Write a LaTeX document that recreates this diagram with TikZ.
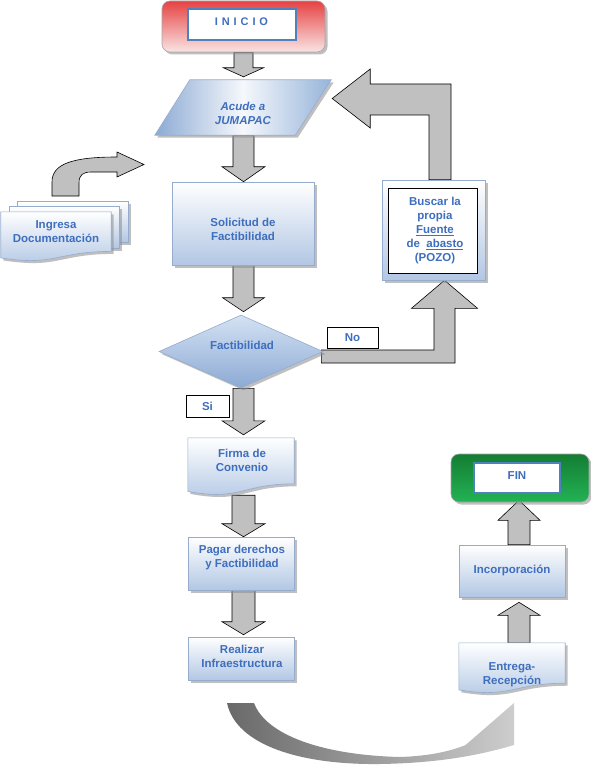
\documentclass[tikz,border=0pt]{standalone}
\usepackage{fontspec}
\setmainfont{Liberation Sans}
\usetikzlibrary{calc,shadows,shapes.geometric,backgrounds}
\definecolor{txt}{RGB}{62,110,190}
\definecolor{bxb}{RGB}{178,199,228}
\definecolor{bxline}{RGB}{150,172,205}
\definecolor{arrowgray}{RGB}{192,192,192}
\definecolor{innerblue}{RGB}{79,129,189}
\definecolor{inired}{RGB}{230,66,66}
\definecolor{inilow}{RGB}{250,228,228}
\definecolor{fintop}{RGB}{20,125,50}
\definecolor{finbot}{RGB}{35,178,85}
\definecolor{parL}{RGB}{140,170,212}
\definecolor{parR}{RGB}{150,180,218}
\definecolor{dtop}{RGB}{212,226,243}
\definecolor{dbot}{RGB}{140,170,212}
\definecolor{crvL}{RGB}{105,105,105}
\definecolor{crvR}{RGB}{205,205,205}

\newcommand\vbar[5]{%
  \path[barrow] let \p1=#1, \p2=#2 in
  ({\x2-#3},\y1) -- ({\x2+#3},\y1) -- ({\x2+#3},{\y2+#5}) -- ({\x2+#4},{\y2+#5})
  -- (\x2,\y2) -- ({\x2-#4},{\y2+#5}) -- ({\x2-#3},{\y2+#5}) -- cycle;}
\newcommand\docshape[2]{%
  \path[#1] let \p1=(#2.north west), \p2=(#2.south east), \n1={\y1-\y2}, \n2={0.5*(\x1+\x2)} in
  (\x1,\y1) -- (\x2,\y1) -- (\x2,{\y1-0.802*\n1}) .. controls ({\n2*1pt},{\y1-0.802*\n1})
  and ({\n2*1pt},{\y1-1.1075*\n1}) .. (\x1,{\y1-0.934*\n1}) -- cycle;}

\begin{document}
\begin{tikzpicture}[x=1pt,y=-1pt,
  lbl/.style={text=txt, font=\fontsize{11.5}{14}\selectfont\bfseries, align=center, inner sep=0pt},
  shad/.style={drop shadow={shadow xshift=2.5pt, shadow yshift=-2.5pt, opacity=0.55, fill=black!45}},
  box/.style={rectangle, draw=bxline, line width=0.6pt, top color=white, bottom color=bxb, shad, inner sep=0pt},
  docst/.style={draw=bxline, line width=0.6pt, top color=white, bottom color=bxb, shad},
  barrow/.style={fill=arrowgray, draw=black, line width=0.6pt, line join=miter},
  innerbox/.style={rectangle, fill=white, draw=innerblue, line width=1.8pt, inner sep=0pt},
  tagbox/.style={rectangle, fill=white, draw=black, line width=0.7pt, inner sep=0pt},
]
\useasboundingbox (0,0) rectangle (591,765);

% INICIO
\node[rectangle, rounded corners=8pt, draw=black!35, line width=0.6pt, top color=inired, bottom color=inilow, shad,
      minimum width=163pt, minimum height=51pt, inner sep=0pt] (inicio) at (243.5,26.5) {};
\node[innerbox, minimum width=108pt, minimum height=31pt] (inicioin) at (242,24.5) {};
\node[lbl, font=\fontsize{11}{13}\selectfont\bfseries] (iniciot) at (241.5,22) {I\hspace{3.9pt}N\hspace{3.9pt}I\hspace{3.9pt}C\hspace{3.9pt}I\hspace{3.9pt}O};

% Acude a JUMAPAC
\node[minimum width=176pt, minimum height=55pt, inner sep=0pt] (acude) at (243,107.5) {};
\path[draw=bxline, line width=0.6pt, left color=parL, right color=parR, middle color=white!92!parL, shad]
  let \p1=(acude.north west), \p2=(acude.south east) in
  ({\x1+35pt},\y1) -- (\x2,\y1) -- ({\x2-36pt},\y2) -- (\x1,\y2) -- cycle;
\node[lbl, font=\fontsize{11.5}{14}\selectfont\bfseries\itshape] (acudet) at (243,113.5) {Acude a\\JUMAPAC};

% Solicitud
\node[box, minimum width=142pt, minimum height=83pt] (solicitud) at (243,223.5) {};
\node[lbl] (solicitudt) at (243,229) {Solicitud de\\Factibilidad};

% Ingresa Documentacion (multidocument)
\node[box, minimum width=111pt, minimum height=41pt] (ing3) at (72.5,221.5) {};
\node[box, minimum width=110pt, minimum height=42pt] (ing2) at (64,227) {};
\node[minimum width=110pt, minimum height=49pt, inner sep=0pt] (ingresa) at (56,236.5) {};
\docshape{docst}{ingresa}
\node[lbl] (ingresat) at (56,231.5) {Ingresa\\Documentación};

% Factibilidad diamond
\node[diamond, minimum width=164pt, minimum height=73pt, inner sep=0pt, draw=bxline, line width=0.6pt,
      top color=dtop, bottom color=dbot, shad] (fact) at (241,351.5) {};
\node[lbl] (factt) at (242,345) {Factibilidad};

% No / Si tags
\node[tagbox, lbl, minimum width=51pt, minimum height=21pt] (no) at (352.5,337.5) {No};
\node[tagbox, lbl, minimum width=43pt, minimum height=22pt] (si) at (207.5,406) {Si};

% Buscar la propia fuente
\node[box, minimum width=103pt, minimum height=100pt] (buscar) at (433.5,230) {};
\node[rectangle, fill=white, draw=black, line width=0.9pt, minimum width=89pt, minimum height=85pt, inner sep=0pt] (buscarin) at (432.5,230.5) {};
\node[lbl] (buscart) at (435,230.5) {Buscar la\\propia\\\underline{Fuente}\\de \ \underline{abasto}\\(POZO)};

% Firma de Convenio (document)
\node[minimum width=106pt, minimum height=57pt, inner sep=0pt] (firma) at (241,466.5) {};
\docshape{docst}{firma}
\node[lbl] (firmat) at (242,460) {Firma de\\Convenio};

% Pagar derechos
\node[box, minimum width=106pt, minimum height=53pt] (pagar) at (241,563.5) {};
\node[lbl] (pagart) at (242,557.5) {Pagar derechos\\y Factibilidad};

% Realizar Infraestructura
\node[box, minimum width=106pt, minimum height=43pt] (realizar) at (241,658.5) {};
\node[lbl] (realizart) at (242,656) {Realizar\\Infraestructura};

% FIN
\node[rectangle, rounded corners=8pt, draw=black!35, line width=0.6pt, top color=fintop, bottom color=finbot, shad,
      minimum width=138pt, minimum height=48pt, inner sep=0pt] (fin) at (520,478) {};
\node[innerbox, minimum width=86pt, minimum height=30pt] (finin) at (517,478) {};
\node[lbl] (fint) at (517,475.5) {FIN};

% Incorporacion
\node[box, minimum width=106pt, minimum height=52pt] (incorp) at (512,571) {};
\node[lbl] (incorpt) at (512,570) {Incorporación};

% Entrega-Recepcion (document)
\node[minimum width=106pt, minimum height=50pt, inner sep=0pt] (entrega) at (512,668) {};
\docshape{docst}{entrega}
\node[lbl] (entregat) at (512,675) {Entrega-\\Recepción};

\coordinate (ingtip) at (144,164.5);

\begin{pgfonlayer}{background}
\fill[white] (0,0) rectangle (591,765);
% vertical block arrows
\vbar{(inicio.south)}{($(acude.north -| inicio.south)+(0,-3)$)}{9.5pt}{20pt}{9pt}
\vbar{(acude.south)}{(solicitud.north -| inicio.south)}{10.5pt}{21.5pt}{15pt}
\vbar{(solicitud.south)}{($(fact.north -| inicio.south)+(0,-3)$)}{10.5pt}{21pt}{14pt}
\vbar{(fact.south)}{($(firma.north -| inicio.south)+(0,-3)$)}{10.5pt}{21.5pt}{14pt}
\vbar{(firma.south)}{(pagar.north -| inicio.south)}{11.5pt}{21.5pt}{13pt}
\vbar{(pagar.south)}{($(realizar.north -| inicio.south)+(0,-2)$)}{11.5pt}{21.5pt}{13pt}
\vbar{(entrega.north)}{($(incorp.south -| fin.south)+(-1,5)$)}{11pt}{21pt}{-13pt}
\vbar{(incorp.north)}{($(fin.south)+(-1,-2)$)}{11pt}{21pt}{-20pt}

% No: diamond -> Buscar
\path[barrow] let \p1=(fact.east), \p2=($(buscar.south)+(11,0)$) in
  ({\x1-2pt},{\y1+1.5pt}) -- ({\x2-10.5pt},{\y1+1.5pt}) -- ({\x2-10.5pt},{\y2-28pt}) -- ({\x2-33pt},{\y2-28pt})
  -- (\x2,\y2) -- ({\x2+33pt},{\y2-28pt}) -- ({\x2+10.5pt},{\y2-28pt}) -- ({\x2+10.5pt},{\y1-11.5pt})
  -- ({\x1-2pt},{\y1-11.5pt}) -- cycle;

% Buscar -> Acude
\path[barrow] let \p1=($(buscar.north)+(6.5,0)$), \p2=($(acude.east)+(1,-9)$) in
  ({\x1-11pt},\y1) -- ({\x1-11pt},{\y2-16.5pt}) -- ({\x2+38pt},{\y2-16.5pt}) -- ({\x2+38pt},{\y2-29.5pt})
  -- (\x2,\y2) -- ({\x2+38pt},{\y2+29.5pt}) -- ({\x2+38pt},{\y2+14.5pt}) -- ({\x1+11pt},{\y2+14.5pt})
  -- ({\x1+11pt},\y1) -- cycle;
\end{pgfonlayer}

% Ingresa -> Solicitud curved arrow
\path[barrow] (52,196) -- (52,182) .. controls (52,164) and (72,157) .. (117,157) -- (117,152) -- (ingtip)
  -- (117,177) -- (117,172) -- (91,172) .. controls (83,172) and (79,175) .. (79,183) -- (79,196) -- cycle;

% Realizar -> Entrega curved arrow
\coordinate (crvtip) at (514,703);
\path[left color=crvL, right color=crvR] (254,703) .. controls (266,735) and (322,755) .. (400,757)
  .. controls (430,756) and (452,751) .. (468,744) -- (461,749) -- (crvtip) -- (514,745)
  .. controls (480,755) and (440,763) .. (380,764) .. controls (300,765) and (236,745) .. (227,703) -- cycle;
\end{tikzpicture}
\end{document}
